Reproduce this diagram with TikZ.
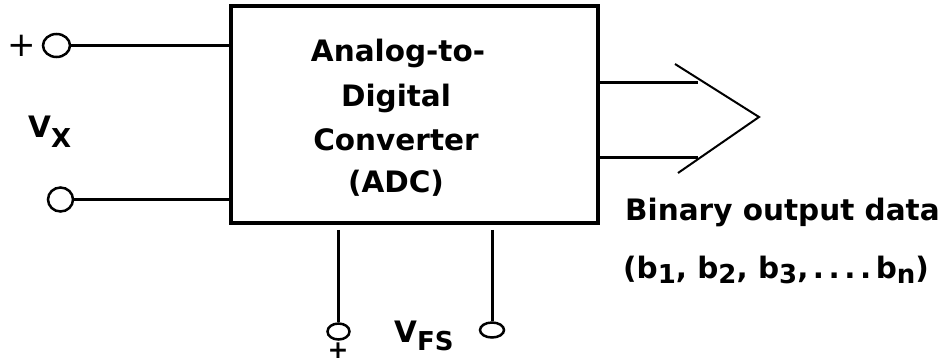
\documentclass[tikz,border=0pt]{standalone}
\usepackage{fontspec}
\setmainfont{DejaVu Sans}
\usetikzlibrary{shapes.geometric}
\begin{document}
\begin{tikzpicture}[x=1pt,y=-1pt,
  adcbox/.style={draw, line width=4pt, minimum width=367pt, minimum height=217pt, inner sep=0},
  lead/.style={line width=3pt},
  chev/.style={line width=2pt},
  term/.style={draw, ellipse, line width=2.5pt, inner sep=0},
  lbl/.style={font=\fontsize{29.5}{35}\selectfont\bfseries, inner sep=0},
  pm/.style={inner sep=0}]
\useasboundingbox (0,0) rectangle (944,362);
% box
\node[adcbox] (adc) at (414.5,114.4) {};
\node[lbl, anchor=base] (l1) at (398,61) {Analog-to-};
\node[lbl, anchor=base] (l2) at (396,106) {Digital};
\node[lbl, anchor=base] (l3) at (396,150) {Converter};
\node[lbl, anchor=base] (l4) at (396,192) {(ADC)};
% input terminals
\node[term, minimum width=27pt, minimum height=23pt] (t1) at (56.5,45.5) {};
\node[term, minimum width=25pt, minimum height=24pt] (t2) at (60.5,199.5) {};
\node[pm, font=\fontsize{34}{34}\selectfont] (p1) at (22,45.5) {+};
\node[lbl, anchor=base west] (vx) at (28,137) {V\raisebox{-10pt}{\fontsize{26}{26}\selectfont X}};
\draw[lead] (t1.east) -- (t1.east -| adc.west);
\draw[lead] (t2.east) -- (t2.east -| adc.west);
% reference terminals
\node[term, minimum width=22pt, minimum height=16pt] (t3) at (338.5,331.5) {};
\node[term, minimum width=24pt, minimum height=15pt] (t4) at (492,330) {};
\node[pm, font=\fontsize{25}{25}\selectfont\bfseries] (p2) at (338,350.5) {+};
\node[lbl, anchor=base west] (vfs) at (394,342) {V\raisebox{-8pt}{\fontsize{26}{26}\selectfont FS}};
\draw[lead, shorten <=5pt] (adc.south -| t3.north) -- (t3.north);
\draw[lead, shorten <=5pt] (adc.south -| t4.north) -- (t4.north);
% outputs
\coordinate (o1) at (698,82);
\coordinate (o2) at (698,157);
\draw[lead] (adc.east |- o1) -- (o1);
\draw[lead] (adc.east |- o2) -- (o2);
\coordinate (c1) at (675,64);
\coordinate (c2) at (759,117);
\coordinate (c3) at (678,173);
\draw[chev] (c1) -- (c2) -- (c3);
\node[lbl, anchor=base west] (bod) at (625,220) {Binary output data};
\node[lbl, anchor=base west] (bits) at (623,278) {(b\raisebox{-5pt}{\fontsize{26}{26}\selectfont 1}, b\raisebox{-5pt}{\fontsize{26}{26}\selectfont 2}, b\raisebox{-5pt}{\fontsize{26}{26}\selectfont 3},\hspace{4.5pt}.\hspace{4.5pt}.\hspace{4.5pt}.\hspace{4.5pt}.\hspace{4.5pt}b\raisebox{-5pt}{\fontsize{26}{26}\selectfont n})};
\end{tikzpicture}
\end{document}
